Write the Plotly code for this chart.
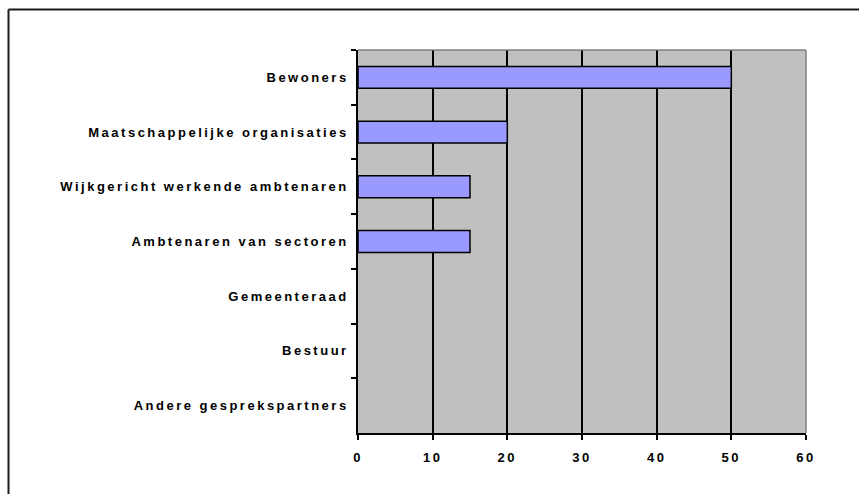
import plotly.graph_objects as go

# Gesprekspartners en hun aantallen
categories = [
    "Bewoners",
    "Maatschappelijke organisaties",
    "Wijkgericht werkende ambtenaren",
    "Ambtenaren van sectoren",
    "Gemeenteraad",
    "Bestuur",
    "Andere gesprekspartners",
]
values = [50, 20, 15, 15, 0, 0, 0]
x_ticks = [0, 10, 20, 30, 40, 50, 60]

W, H = 859, 494
L, R, T, B = 358, 53, 50, 61
pw, ph = W - L - R, H - T - B

# empty bars get no outline
outline_widths = [1.5 if v > 0 else 0 for v in values]

fig = go.Figure(
    go.Bar(
        x=values,
        y=categories,
        orientation="h",
        marker=dict(color="#9999FF", line=dict(color="#000000", width=outline_widths)),
        hoverinfo="x+y",
    )
)

font = dict(family="Liberation Sans, Arial, sans-serif", size=13, color="#000000", weight="bold")


def px_x(p):
    return (p - L) / pw


def px_y(p):
    return (T + ph - p) / ph


fig.update_layout(
    width=W,
    height=H,
    margin=dict(l=L, r=R, t=T, b=B, pad=0),
    paper_bgcolor="#FFFFFF",
    plot_bgcolor="#C0C0C0",
    bargap=0.6,
    showlegend=False,
    font=font,
    xaxis=dict(
        range=[0, 60],
        tickvals=x_ticks,
        ticktext=[str(v) for v in x_ticks],
        showgrid=True,
        gridcolor="#000000",
        gridwidth=2,
        zeroline=False,
        showline=True,
        linecolor="#000000",
        linewidth=1.5,
        ticks="outside",
        ticklen=5,
        tickwidth=1.5,
        tickcolor="#000000",
        tickfont=font,
        ticklabelstandoff=7,
        fixedrange=True,
    ),
    yaxis=dict(
        categoryorder="array",
        categoryarray=categories,
        autorange="reversed",
        showgrid=False,
        zeroline=False,
        showline=True,
        linecolor="#000000",
        linewidth=1.5,
        ticks="outside",
        tickson="boundaries",
        ticklen=5,
        tickwidth=1.5,
        tickcolor="#000000",
        tickfont=font,
        ticklabelstandoff=5,
        fixedrange=True,
    ),
    shapes=[
        # grey edge along the top and right of the plot area
        dict(type="line", xref="paper", yref="paper", x0=0, x1=1, y0=1, y1=1,
             line=dict(color="#808080", width=1.5), layer="above"),
        dict(type="line", xref="paper", yref="paper", x0=1, x1=1, y0=0, y1=1,
             line=dict(color="#808080", width=1.5), layer="above"),
        # outer chart frame: left and top edges
        dict(type="line", xref="paper", yref="paper",
             x0=px_x(8.5), x1=px_x(8.5), y0=px_y(9.5), y1=px_y(H + 20),
             line=dict(color="#1a1a1a", width=2), layer="above"),
        dict(type="line", xref="paper", yref="paper",
             x0=px_x(8.5), x1=px_x(W + 20), y0=px_y(9.5), y1=px_y(9.5),
             line=dict(color="#1a1a1a", width=2), layer="above"),
    ],
)

spacing_js = (
    "document.querySelectorAll('.xtick text, .ytick text')"
    ".forEach(function(t){t.style.letterSpacing='2.5px';});"
)

fig.write_html("out.html", post_script=spacing_js, config={"displayModeBar": False})
